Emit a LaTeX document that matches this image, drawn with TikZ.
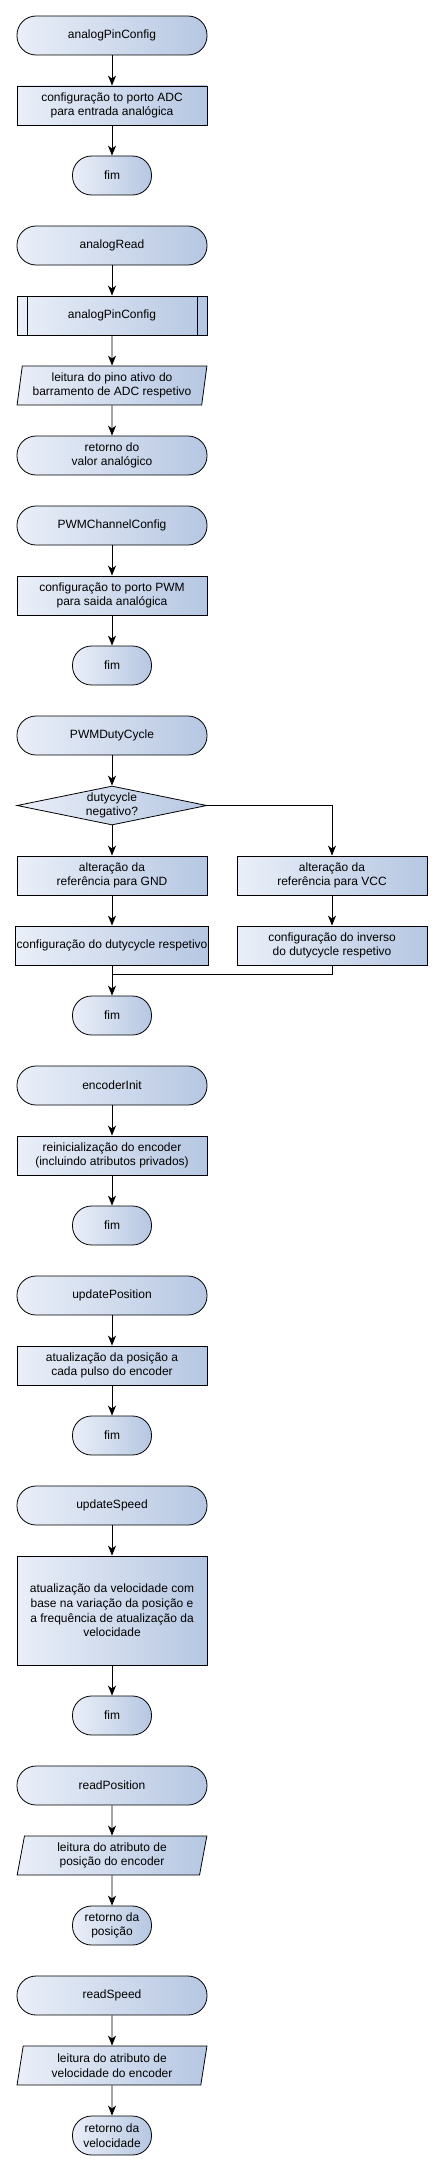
\documentclass[tikz,border=0pt]{standalone}
\usepackage{fontspec}
\setmainfont{Liberation Sans}
\usepackage{tikz}
\usetikzlibrary{arrows.meta}
\tikzset{>={Stealth[length=10pt,width=8pt,inset=3pt]}}
\usetikzlibrary{shapes.geometric}
\definecolor{boxlight}{RGB}{234,239,248}
\definecolor{boxdark}{RGB}{182,199,226}
\tikzset{
    flow/.style={draw=black, line width=0.8pt, left color=boxlight, right color=boxdark,
        font=\fontsize{12}{14.6}\selectfont, align=center, inner sep=1pt},
    terminal/.style={flow, rectangle, rounded corners=19pt, minimum width=190pt, minimum height=39pt},
    endterm/.style={terminal, minimum width=79pt},
    process/.style={flow, rectangle, minimum width=190pt, minimum height=39pt},
    subproc/.style={process, path picture={
        \draw[line width=0.8pt]
            ([xshift=10pt]path picture bounding box.north west) -- ([xshift=10pt]path picture bounding box.south west)
            ([xshift=-10pt]path picture bounding box.north east) -- ([xshift=-10pt]path picture bounding box.south east);}},
    io/.style={flow, trapezium, trapezium left angle=80.5, trapezium right angle=99.5,
        trapezium stretches=true, minimum width=190pt, minimum height=39pt},
    decision/.style={flow, diamond, aspect=4.8, minimum width=190pt, minimum height=39pt, inner sep=-2pt}
}
\begin{document}
\begin{tikzpicture}[x=1pt,y=-1pt]
    \useasboundingbox (0,0) rectangle (443,2170);
    % analogPinConfig
    \node[terminal] at (112,35.5) (apcStart) {analogPinConfig};
    \node[process] at (112,105.5) (apcCfg) {configuração to porto ADC\\para entrada analógica};
    \node[endterm] at (112,175.5) (apcEnd) {fim};
    % analogRead
    \node[terminal] at (112,245.5) (arStart) {analogRead};
    \node[subproc] at (112,315.5) (arSub) {analogPinConfig};
    \node[io] at (112,385.5) (arRead) {leitura do pino ativo do\\barramento de ADC respetivo};
    \node[terminal] at (112,455.5) (arRet) {retorno do\\valor analógico};
    % PWMChannelConfig
    \node[terminal] at (112,525.5) (pcStart) {PWMChannelConfig};
    \node[process] at (112,595.5) (pcCfg) {configuração to porto PWM\\para saida analógica};
    \node[endterm] at (112,665.5) (pcEnd) {fim};
    % PWMDutyCycle
    \node[terminal] at (112,735.5) (pdStart) {PWMDutyCycle};
    \node[decision] at (112,805.5) (pdTest) {dutycycle\\negativo?};
    \node[process] at (112,875.5) (pdGnd) {alteração da\\referência para GND};
    \node[process] at (332,875.5) (pdVcc) {alteração da\\referência para VCC};
    \node[process] at (112,945.5) (pdDuty) {configuração do dutycycle respetivo};
    \node[process] at (332,945.5) (pdInv) {configuração do inverso\\do dutycycle respetivo};
    \coordinate (pdJoin) at (112,974);
    \node[endterm] at (112,1015.5) (pdEnd) {fim};
    % encoderInit
    \node[terminal] at (112,1085.5) (eiStart) {encoderInit};
    \node[process] at (112,1155.5) (eiReset) {reinicialização do encoder\\(incluindo atributos privados)};
    \node[endterm] at (112,1225.5) (eiEnd) {fim};
    % updatePosition
    \node[terminal] at (112,1295.5) (upStart) {updatePosition};
    \node[process] at (112,1365.5) (upCalc) {atualização da posição a\\cada pulso do encoder};
    \node[endterm] at (112,1435.5) (upEnd) {fim};
    % updateSpeed
    \node[terminal] at (112,1505.5) (usStart) {updateSpeed};
    \node[process, minimum height=109pt] at (112,1610.5) (usCalc) {atualização da velocidade com\\base na variação da posição e\\a frequência de atualização da\\velocidade};
    \node[endterm] at (112,1715.5) (usEnd) {fim};
    % readPosition
    \node[terminal] at (112,1785.5) (rpStart) {readPosition};
    \node[io] at (112,1855.5) (rpRead) {leitura do atributo de\\posição do encoder};
    \node[endterm] at (112,1925.5) (rpRet) {retorno da\\posição};
    % readSpeed
    \node[terminal] at (112,1995.5) (rsStart) {readSpeed};
    \node[io] at (112,2065.5) (rsRead) {leitura do atributo de\\velocidade do encoder};
    \node[endterm] at (112,2135.5) (rsRet) {retorno da\\velocidade};
    \path[->, line width=0.8pt]
    (apcStart) edge (apcCfg)
    (apcCfg) edge (apcEnd)
    (arStart) edge (arSub)
    (arSub.south) edge (arRead.north)
    (arRead.south) edge (arRet.north)
    (pcStart) edge (pcCfg)
    (pcCfg) edge (pcEnd)
    (pdStart) edge (pdTest)
    (pdTest) edge (pdGnd)
    (pdGnd) edge (pdDuty)
    (pdVcc) edge (pdInv)
    (pdDuty) edge (pdEnd)
    (eiStart) edge (eiReset)
    (eiReset) edge (eiEnd)
    (upStart) edge (upCalc)
    (upCalc) edge (upEnd)
    (usStart) edge (usCalc)
    (usCalc) edge (usEnd)
    (rpStart.south) edge (rpRead.north)
    (rpRead.south) edge (rpRet.north)
    (rsStart.south) edge (rsRead.north)
    (rsRead.south) edge (rsRet.north)
    ;
    \draw[->, line width=0.8pt] (pdTest.east) -| (pdVcc.north);
    \draw[line width=0.8pt] (pdInv.south) |- (pdJoin);
\end{tikzpicture}
\end{document}
